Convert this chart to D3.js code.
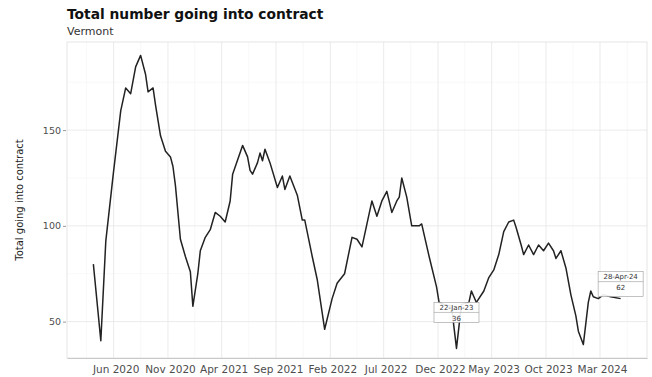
<!DOCTYPE html>
<html><head><meta charset="utf-8">
<script src="https://cdn.jsdelivr.net/npm/d3@7"></script>
<style>body{margin:0;background:#fff}svg{display:block}</style>
</head><body>
<svg id="chart" width="652" height="377"></svg>
<script>
// ---- data ----
const dates = ["2020-04-05","2020-04-26","2020-05-10","2020-05-31","2020-06-21","2020-07-05","2020-07-19","2020-08-02","2020-08-16","2020-08-30","2020-09-06","2020-09-20","2020-09-27","2020-10-11","2020-10-25","2020-11-08","2020-11-15","2020-11-22","2020-12-06","2020-12-20","2021-01-03","2021-01-10","2021-01-24","2021-01-31","2021-02-14","2021-02-28","2021-03-14","2021-03-28","2021-04-11","2021-04-25","2021-05-02","2021-05-30","2021-06-13","2021-06-20","2021-06-27","2021-07-11","2021-07-18","2021-07-25","2021-08-01","2021-08-15","2021-09-05","2021-09-19","2021-09-26","2021-10-10","2021-10-31","2021-11-14","2021-11-21","2021-12-12","2021-12-26","2022-01-16","2022-02-06","2022-02-20","2022-03-13","2022-04-03","2022-04-17","2022-05-01","2022-05-15","2022-05-29","2022-06-12","2022-06-26","2022-07-10","2022-07-24","2022-08-07","2022-08-14","2022-08-21","2022-09-04","2022-09-18","2022-10-09","2022-10-16","2022-11-06","2022-11-27","2022-12-04","2022-12-18","2023-01-08","2023-01-22","2023-02-05","2023-02-26","2023-03-05","2023-03-19","2023-04-09","2023-04-23","2023-05-07","2023-05-21","2023-06-04","2023-06-18","2023-07-02","2023-07-09","2023-07-23","2023-07-30","2023-08-13","2023-08-27","2023-09-10","2023-09-24","2023-10-08","2023-10-22","2023-10-29","2023-11-12","2023-11-26","2023-12-10","2023-12-24","2023-12-31","2024-01-14","2024-01-28","2024-02-04","2024-02-11","2024-02-25","2024-03-10","2024-03-31","2024-04-28"];
const values = [80,40,92,127,160,172,169,183,189,179,170,172,163,147,139,136,131,121,93,84,76,58,75,87,94,98,107,105,102,113,127,142,136,129,127,133,138,134,140,133,120,126,119,126,116,103,103,84,72,46,62,70,75,94,93,89,101,113,105,113,118,107,113,115,125,115,100,100,101,84,68,60,59,58,36,59,60,66,60,66,73,77,85,97,102,103,99,90,85,90,85,90,87,91,87,83,87,78,64,53,45,38,60,66,63,62,64,63,62];
const xTickDates = ["2020-06-01","2020-11-01","2021-04-01","2021-09-01","2022-02-01","2022-07-01","2022-12-01","2023-05-01","2023-10-01","2024-03-01"];
const xTickLabels = ["Jun 2020","Nov 2020","Apr 2021","Sep 2021","Feb 2022","Jul 2022","Dec 2022","May 2023","Oct 2023","Mar 2024"];
const yTicks = [50, 100, 150];
const yMinorTicks = [75, 125, 175];
const yDomain = [31, 196];
const titleText = "Total number going into contract";
const subtitleText = "Vermont";
const yTitleText = "Total going into contract";

// ---- setup ----
const parse = d3.timeParse("%Y-%m-%d");
const data = dates.map((d, i) => ({date: parse(d), value: values[i]}));
const fmtLabel = d3.timeFormat("%d-%b-%y");

const svg = d3.select("#chart");
const pL = 67, pR = 647, pT = 42, pB = 358;

const ext = d3.extent(data, d => d.date);
const pad = (ext[1] - ext[0]) * 0.05;
const x = d3.scaleTime().domain([new Date(+ext[0] - pad), new Date(+ext[1] + pad)]).range([pL, pR]);
const y = d3.scaleLinear().domain(yDomain).range([pB, pT]);

// minor vertical grid (midpoints between majors)
const xt = xTickDates.map(parse);
const xMinor = [];
for (let i = 0; i < xt.length - 1; i++) xMinor.push(new Date((+xt[i] + +xt[i+1]) / 2));
xMinor.unshift(new Date(+xt[0] - (xt[1] - xt[0]) / 2));
xMinor.push(new Date(+xt[xt.length-1] + (xt[1] - xt[0]) / 2));

const grid = svg.append("g");
grid.selectAll(".yminor").data(yMinorTicks).join("line")
  .attr("x1", pL).attr("x2", pR).attr("y1", d => y(d)).attr("y2", d => y(d))
  .attr("stroke", "#f3f3f3").attr("stroke-width", 0.6);
grid.selectAll(".xminor").data(xMinor.filter(d => x(d) > pL && x(d) < pR)).join("line")
  .attr("y1", pT).attr("y2", pB).attr("x1", d => x(d)).attr("x2", d => x(d))
  .attr("stroke", "#f3f3f3").attr("stroke-width", 0.6);
grid.selectAll(".ymajor").data(yTicks).join("line")
  .attr("x1", pL).attr("x2", pR).attr("y1", d => y(d)).attr("y2", d => y(d))
  .attr("stroke", "#e6e6e6").attr("stroke-width", 0.8);
grid.selectAll(".xmajor").data(xt).join("line")
  .attr("y1", pT).attr("y2", pB).attr("x1", d => x(d)).attr("x2", d => x(d))
  .attr("stroke", "#e6e6e6").attr("stroke-width", 0.8);

// panel border
svg.append("rect").attr("x", pL).attr("y", pT).attr("width", pR - pL).attr("height", pB - pT)
  .attr("fill", "none").attr("stroke", "#dedede").attr("stroke-width", 0.8);

// axes
const yAxis = d3.axisLeft(y).tickValues(yTicks).tickSize(3).tickPadding(2);
const gy = svg.append("g").attr("transform", `translate(${pL - 1},0)`).call(yAxis);
gy.select(".domain").remove();
gy.selectAll("line").attr("stroke", "#999");
gy.selectAll("text").attr("font-family", "DejaVu Sans, sans-serif").attr("font-size", 9.5).attr("fill", "#4d4d4d");

const xAxis = d3.axisBottom(x).tickValues(xt).tickFormat((d, i) => xTickLabels[i]).tickSize(0).tickPadding(8);
const gx = svg.append("g").attr("transform", `translate(2,${pB})`).call(xAxis);
gx.select(".domain").attr("transform", "translate(-2,0)").attr("stroke", "#bdbdbd").attr("stroke-width", 0.8);
gx.selectAll("text").attr("font-family", "DejaVu Sans, sans-serif").attr("font-size", 10.5).attr("fill", "#4d4d4d");

// line
svg.append("path").datum(data)
  .attr("fill", "none").attr("stroke", "#222").attr("stroke-width", 1.5).attr("stroke-linejoin", "round")
  .attr("d", d3.line().x(d => x(d.date)).y(d => y(d.value)));

// annotations: minimum and latest
const minPt = data.reduce((a, b) => b.value < a.value ? b : a);
const lastPt = data[data.length - 1];
function annotate(pt, boxTop, h) {
  const w = 45;
  const cx = x(pt.date);
  const bx = Math.min(cx - w / 2, pR - 1 - w);
  const g = svg.append("g");
  g.append("rect").attr("x", bx).attr("y", boxTop).attr("width", w).attr("height", h)
    .attr("fill", "#fff").attr("fill-opacity", 0.9).attr("stroke", "#9a9a9a").attr("stroke-width", 0.6);
  g.append("line").attr("x1", bx).attr("x2", bx + w).attr("y1", boxTop + 10).attr("y2", boxTop + 10)
    .attr("stroke", "#9a9a9a").attr("stroke-width", 0.6);
  g.append("text").attr("x", bx + w / 2).attr("y", boxTop + 7.8).attr("text-anchor", "middle")
    .attr("font-family", "DejaVu Sans, sans-serif").attr("font-size", 7).attr("fill", "#333")
    .text(fmtLabel(pt.date));
  g.append("text").attr("x", bx + w / 2).attr("y", boxTop + 18.5).attr("text-anchor", "middle")
    .attr("font-family", "DejaVu Sans, sans-serif").attr("font-size", 7).attr("fill", "#333")
    .text(pt.value);
}
annotate(minPt, y(minPt.value) - 46, 20);
annotate(lastPt, y(lastPt.value) - 27, 25);

// titles
svg.append("text").attr("x", pL).attr("y", 19).attr("font-family", "DejaVu Sans, sans-serif")
  .attr("font-weight", "bold").attr("font-size", 13.8).attr("fill", "#111").text(titleText);
svg.append("text").attr("x", pL).attr("y", 34.5).attr("font-family", "DejaVu Sans, sans-serif")
  .attr("font-size", 11).attr("fill", "#333").text(subtitleText);
svg.append("text").attr("transform", `translate(23,${(pT + pB) / 2}) rotate(-90)`)
  .attr("text-anchor", "middle").attr("font-family", "DejaVu Sans, sans-serif")
  .attr("font-size", 10).attr("fill", "#222").text(yTitleText);
</script>
</body></html>
